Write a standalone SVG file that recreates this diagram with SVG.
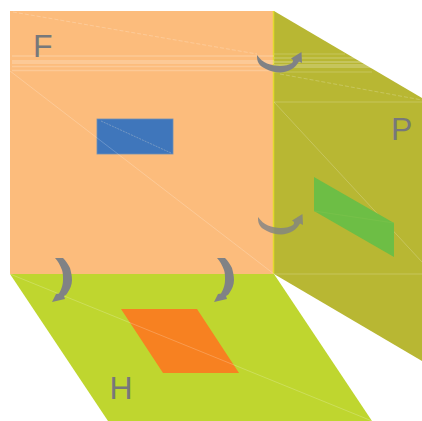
<svg xmlns="http://www.w3.org/2000/svg" width="422" height="421" viewBox="0 0 422 421">
<style>
.lbl{font-family:"Liberation Sans",Arial,sans-serif;font-size:32px;fill:#77787b}
.seam{stroke:#fff;fill:none;stroke-width:.7;opacity:.3}
.dash{stroke-dasharray:4 2}
.band{stroke:#fff;fill:none;opacity:.2}
.arrow{fill:#808285}
</style>
<defs>
<g id="curve"><path class="arrow" d="M0 0C3 4 6 7 10 8.500C14 10 18 11 23 11C28 11 32 10 35 8C36 7 36 6 36 5L34 3.500L44.500-3L45 8L42 6.500C40 10 38 12 35 14C31 16 27 17.500 23 17.500C18 17.500 13 16 9 14C5 12 2 10 1 7C0 5 0 2 0 0Z"/></g>
<g id="vcurve"><path class="arrow" d="M0 0L8 0C11 3 13 6 15 10C16 14 17 18 17 22C17 27 15 31 13 34C12 36 11 37 9 38L10 41L-3 44L1 36L4 35.500C7 30 8 26 8 22C8 18 8 15 7 12C5 7 3 3 0 0Z"/></g>
</defs>
<g id="plane-H"><polygon points="10,274 274,274 372,421 108,421" fill="#bfd62f"/></g>
<g id="plane-P"><polygon points="274,11 422,98 422,361 274,274" fill="#b8b733"/></g>
<g id="plane-F"><rect x="10" y="11" width="264" height="263" fill="#fcbc7c"/></g>
<g id="edge"><line x1="273.500" y1="11" x2="273.500" y2="274" stroke="#e4da2d" stroke-width="1.500"/></g>
<g id="connectors-back">
<path class="seam" d="M274 102L422 262"/>
</g>
<g id="rect-F"><rect x="97" y="119" width="76" height="35" fill="#3f76bb" stroke="#6f8fb5" stroke-width=".8"/></g>
<g id="rect-P"><polygon points="314,177 394,223 394,257 314,211" fill="#6dbe45"/></g>
<g id="rect-H"><polygon points="121,309 197,309 239,373 163,373" fill="#f78121"/></g>
<g id="connectors">
<g class="band">
<path d="M12 56H274" stroke-width="1.500"/><path d="M12 62H274" stroke-width="4"/><path d="M12 66.500H274" stroke-width="1.500"/><path d="M12 70.500H274" stroke-width="1.500"/>
<path d="M274 54H345" stroke-width="1"/><path d="M274 58H362" stroke-width="1.500"/><path d="M274 62H368" stroke-width="2"/><path d="M274 66H378" stroke-width="4"/><path d="M274 72H372" stroke-width="1"/>
</g>
<path class="seam dash" d="M13 12L257 54"/>
<path class="seam dash" d="M280 74L422 100"/>
<path class="seam" d="M10 71L274 274L422 274"/>
<path class="seam" d="M274 102H422"/>
<path class="seam" d="M10 274L372 421"/>
<path d="M101 121L171 153" stroke="#8ba6c6" fill="none" stroke-width=".7" stroke-dasharray="2 1"/>
<path d="M314 211L394 223" stroke="#7cc24c" fill="none" stroke-width=".6"/>
<use href="#curve" x="257" y="55"/>
<use href="#curve" x="258" y="217" opacity=".8"/>
<use href="#vcurve" x="55" y="258"/>
<use href="#vcurve" x="217" y="258"/>
</g>
<g id="label-F"><text class="lbl" x="33" y="57">F</text></g>
<g id="label-P"><text class="lbl" x="391" y="140">P</text></g>
<g id="label-H"><text class="lbl" x="109.500" y="399">H</text></g>
</svg>
